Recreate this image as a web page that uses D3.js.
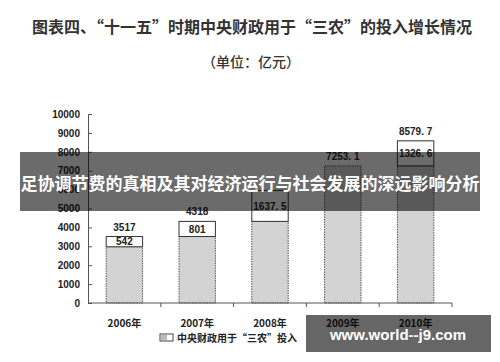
<!DOCTYPE html>
<head>
  <meta charset="utf-8">
  <script src="https://d3js.org/d3.v7.min.js"></script>
  <style>
    body { margin: 0; background: #fff; }
    text { font-family: "Liberation Sans", Arial, sans-serif; }
    .cjk { font-family: "Noto Sans CJK SC", sans-serif; }
  </style>
</head>

<body>
  <script>
  var years = ["2006年", "2007年", "2008年", "2009年", "2010年"];
  var totals = [3517, 4318, 5955.5, 7253.1, 8579.7];
  var increases = [542, 801, 1637.5, null, 1326.6];
  var totalLabels = ["3517", "4318", null, "7253. 1", "8579. 7"];
  var increaseLabels = ["542", "801", "1637. 5", null, "1326. 6"];
  var yTicks = [0, 1000, 2000, 3000, 4000, 5000, 6000, 7000, 8000, 9000, 10000];

  var width = 500,
      height = 362;

  var svg = d3.select("body").append("svg")
      .attr("width", width)
      .attr("height", height);

  svg.append("rect")
      .attr("width", width)
      .attr("height", height)
      .attr("fill", "#fff");

  var x = d3.scaleBand()
      .domain(years)
      .range([88, 452])
      .paddingInner(0.5)
      .paddingOuter(0.25);

  var y = d3.scaleLinear()
      .domain([0, 10000])
      .range([303, 114]);

  // title
  svg.append("text")
      .attr("class", "cjk")
      .attr("x", 252)
      .attr("y", 33)
      .attr("text-anchor", "middle")
      .attr("font-size", 16)
      .attr("font-weight", 700)
      .attr("fill", "#333")
      .text("图表四、“十一五”时期中央财政用于“三农”的投入增长情况");

  svg.append("text")
      .attr("class", "cjk")
      .attr("x", 251)
      .attr("y", 67)
      .attr("text-anchor", "middle")
      .attr("font-size", 14)
      .attr("font-weight", 500)
      .attr("fill", "#333")
      .text("（单位：亿元）");

  // y axis
  var yAxis = svg.append("g")
      .attr("transform", "translate(88,0)")
      .call(d3.axisLeft(y).tickValues(yTicks).tickFormat(d3.format("d"))
        .tickSizeInner(-4).tickSizeOuter(0).tickPadding(8));
  yAxis.select(".domain").attr("stroke", "#555");
  yAxis.selectAll(".tick line").attr("stroke", "#555");
  yAxis.selectAll(".tick text")
      .attr("font-size", 10)
      .attr("font-weight", 700)
      .attr("fill", "#222");

  // bars: base part
  svg.append("g").selectAll("rect")
      .data(years)
      .enter().append("rect")
      .attr("x", function(d) { return x(d); })
      .attr("width", x.bandwidth())
      .attr("y", function(d, i) { return y(totals[i] - (increases[i] || 0)); })
      .attr("height", function(d, i) { return y(0) - y(totals[i] - (increases[i] || 0)); })
      .attr("fill", "#d3d3d3")
      .attr("stroke", "#555")
      .attr("stroke-dasharray", "1.5,1")
      .attr("stroke-width", 1);

  // bars: increase part
  var incYears = years.filter(function(d, i) { return increases[i] != null; });
  svg.append("g").selectAll("rect")
      .data(incYears)
      .enter().append("rect")
      .attr("x", function(d) { return x(d); })
      .attr("width", x.bandwidth())
      .attr("y", function(d) { var i = years.indexOf(d); return y(totals[i]); })
      .attr("height", function(d) { var i = years.indexOf(d); return y(totals[i] - increases[i]) - y(totals[i]); })
      .attr("fill", "#fff")
      .attr("stroke", "#333")
      .attr("stroke-width", 1);

  svg.append("g").selectAll("text")
      .data(incYears)
      .enter().append("text")
      .attr("x", function(d) { return x(d) + x.bandwidth() / 2; })
      .attr("y", function(d) { var i = years.indexOf(d); return (y(totals[i]) + y(totals[i] - increases[i])) / 2; })
      .attr("dy", "0.36em")
      .attr("text-anchor", "middle")
      .attr("font-size", 10)
      .attr("font-weight", 700)
      .attr("fill", "#222")
      .text(function(d) { return increaseLabels[years.indexOf(d)]; });

  svg.append("g").selectAll("text")
      .data(years.filter(function(d, i) { return totalLabels[i] != null; }))
      .enter().append("text")
      .attr("x", function(d) { return x(d) + x.bandwidth() / 2; })
      .attr("y", function(d) { return y(totals[years.indexOf(d)]) - 6; })
      .attr("text-anchor", "middle")
      .attr("font-size", 10)
      .attr("font-weight", 700)
      .attr("fill", "#222")
      .text(function(d) { return totalLabels[years.indexOf(d)]; });

  // x axis
  var xAxis = svg.append("g")
      .attr("transform", "translate(0,303)");
  xAxis.append("line")
      .attr("x1", x.range()[0])
      .attr("x2", x.range()[1])
      .attr("stroke", "#555");
  xAxis.selectAll(".tk")
      .data(years)
      .enter().append("line")
      .attr("class", "tk")
      .attr("x1", function(d) { return x(d) + x.bandwidth() / 2 + x.step() / 2; })
      .attr("x2", function(d) { return x(d) + x.bandwidth() / 2 + x.step() / 2; })
      .attr("y2", 4)
      .attr("stroke", "#555");
  xAxis.selectAll(".lbl")
      .data(years)
      .enter().append("text")
      .attr("class", "lbl cjk")
      .attr("x", function(d) { return x(d) + x.bandwidth() / 2; })
      .attr("y", 24)
      .attr("text-anchor", "middle")
      .attr("font-size", 10)
      .attr("font-weight", 700)
      .attr("fill", "#222")
      .text(function(d) { return d; });

  // legend
  var legend = svg.append("g")
      .attr("transform", "translate(160,334)");
  legend.append("rect")
      .attr("width", 13)
      .attr("height", 7)
      .attr("fill", "#fff")
      .attr("stroke", "#444");
  legend.append("rect")
      .attr("x", 1)
      .attr("y", 1)
      .attr("width", 6)
      .attr("height", 5)
      .attr("fill", "#bbb");
  legend.append("text")
      .attr("class", "cjk")
      .attr("x", 17)
      .attr("y", 4)
      .attr("dy", "0.36em")
      .attr("font-size", 10)
      .attr("font-weight", 700)
      .attr("fill", "#222")
      .text("中央财政用于“三农”投入");

  // banner overlay
  svg.append("rect")
      .attr("x", 20)
      .attr("y", 152)
      .attr("width", 460)
      .attr("height", 59)
      .attr("fill", "#000")
      .attr("opacity", 0.58);
  svg.append("text")
      .attr("class", "cjk")
      .attr("x", 250)
      .attr("y", 182)
      .attr("dominant-baseline", "central")
      .attr("text-anchor", "middle")
      .attr("font-size", 17)
      .attr("font-weight", 700)
      .attr("fill", "#fff")
      .text("足协调节费的真相及其对经济运行与社会发展的深远影响分析");

  // watermark
  svg.append("rect")
      .attr("x", 306)
      .attr("y", 315)
      .attr("width", 185)
      .attr("height", 37)
      .attr("fill", "#000")
      .attr("opacity", 0.6);
  svg.append("text")
      .attr("x", 398)
      .attr("y", 334)
      .attr("dominant-baseline", "central")
      .attr("text-anchor", "middle")
      .attr("font-family", "'DejaVu Sans', sans-serif")
      .attr("font-size", 15)
      .attr("font-weight", 700)
      .attr("fill", "#fff")
      .text("www.world--j9.com");
  </script>
</body>
